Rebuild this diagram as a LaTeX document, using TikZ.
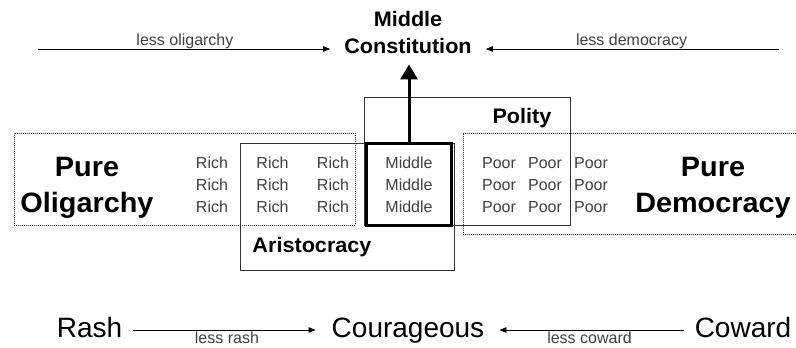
\documentclass[tikz,border=0pt]{standalone}
\usepackage{fontspec}
\setmainfont{Liberation Sans}[BoldFeatures={FakeStretch=1.03}]
\usetikzlibrary{arrows.meta}

\tikzset{
  box/.style={draw=black!80, line width=1pt, inner sep=0pt, outer sep=0pt},
  dotbox/.style={box, line width=0.9pt, dash pattern=on 0.9pt off 1.1pt},
  cell/.style={text=black!75, font=\fontsize{16}{18}\selectfont, inner sep=0pt},
  hint/.style={text=black!75, font=\fontsize{16}{18}\selectfont, inner sep=0pt},
  title/.style={font=\fontsize{21}{24}\selectfont\bfseries, inner sep=0pt},
  big/.style={font=\fontsize{28}{36}\selectfont\bfseries, align=center, inner sep=0pt},
  trait/.style={font=\fontsize{28}{32}\selectfont, inner sep=0pt}
}

\begin{document}
\begin{tikzpicture}[x=1pt,y=-1pt,>={Triangle[length=7pt,width=5.5pt]},auto,node distance=22pt]
\useasboundingbox (0,0) rectangle (796,348);

% the regimes
\node[dotbox,minimum width=341pt,minimum height=92pt]   (oligbox)   at (184.5,179)   {};
\node[dotbox,minimum width=337pt,minimum height=101pt]  (demobox)   at (631.5,183.5) {};
\node[box,minimum width=214pt,minimum height=127pt]     (aristbox)  at (347,206.5)   {};
\node[box,minimum width=206pt,minimum height=128pt]     (politybox) at (467,161)     {};
\node[box,draw=black,line width=3pt,minimum width=85pt,minimum height=81.5pt] (midbox) at (409,184.3) {};

\node[big]                (olig)   at (87,188)   {Pure\\Oligarchy};
\node[big]                (demo)   at (713,188)  {Pure\\Democracy};
\node[title,anchor=base]  (arist)  at (312,252)  {Aristocracy};
\node[title,anchor=base]  (polity) at (522,123)  {Polity};

% rich, middle and poor
\node[cell]   (r11) at (212,163)   {Rich};
\node[cell]   (r21)[below of=r11]  {Rich};
\node[cell]   (r31)[below of=r21]  {Rich};
\node[cell]   (r12) at (272.5,163) {Rich};
\node[cell]   (r22)[below of=r12]  {Rich};
\node[cell]   (r32)[below of=r22]  {Rich};
\node[cell]   (r13) at (333,163)   {Rich};
\node[cell]   (r23)[below of=r13]  {Rich};
\node[cell]   (r33)[below of=r23]  {Rich};

\node[cell]   (m1) at (409,163)    {Middle};
\node[cell]   (m2)[below of=m1]    {Middle};
\node[cell]   (m3)[below of=m2]    {Middle};

\node[cell]   (p11) at (499,163)   {Poor};
\node[cell]   (p21)[below of=p11]  {Poor};
\node[cell]   (p31)[below of=p21]  {Poor};
\node[cell]   (p12) at (545,163)   {Poor};
\node[cell]   (p22)[below of=p12]  {Poor};
\node[cell]   (p32)[below of=p22]  {Poor};
\node[cell]   (p13) at (591,163)   {Poor};
\node[cell]   (p23)[below of=p13]  {Poor};
\node[cell]   (p33)[below of=p23]  {Poor};

% middle constitution
\node[title,anchor=base]  (mc1) at (408,27)  {Middle};
\node[title,anchor=base]  (mc2) at (408,53)  {Constitution};

\coordinate (lo) at (38,49);
\coordinate (ld) at (779,49);

\path[->,line width=0.8pt] (lo)  edge[shorten >=14pt]        node[hint,pos=0.48]{less oligarchy} (lo -| mc2.west)
                           (ld)  edge[shorten >=14pt,swap]   node[hint,pos=0.48]{less democracy} (ld -| mc2.east);

\draw[-{Triangle[length=15pt,width=17pt]},line width=3pt,shorten >=11pt] (midbox.north) -- (midbox.north |- mc2.south);

% the virtue
\node[trait,anchor=base]  (rash)   at (89.5,337) {Rash};
\node[trait,anchor=base]  (cour)   at (408,337)  {Courageous};
\node[trait,anchor=base]  (coward) at (743,337)  {Coward};

\path[->,line width=0.8pt] ([yshift=7pt]rash.base east)   edge[shorten <=11pt,shorten >=16pt,swap] node[hint,yshift=-2pt]{less rash}   ([yshift=7pt]cour.base west)
                           ([yshift=7pt]coward.base west) edge[shorten <=11pt,shorten >=15pt]      node[hint,yshift=-2pt]{less coward} ([yshift=7pt]cour.base east);

\end{tikzpicture}
\end{document}
